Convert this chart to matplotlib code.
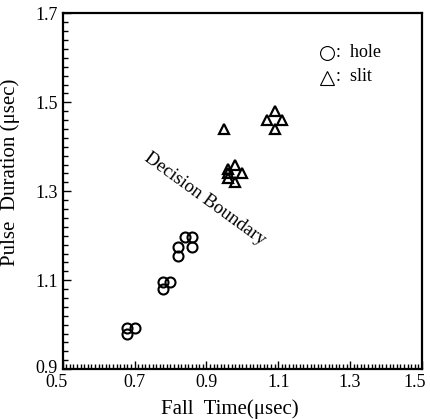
import matplotlib.pyplot as plt
import matplotlib.transforms as mtransforms
from matplotlib.ticker import MultipleLocator

plt.rcParams['font.family'] = ['Liberation Serif', 'DejaVu Serif']

hole_x = [0.68, 0.70, 0.68, 0.78, 0.80, 0.78, 0.82, 0.82, 0.84, 0.86, 0.86]
hole_y = [0.993, 0.993, 0.978, 1.095, 1.095, 1.08, 1.175, 1.155, 1.197, 1.197, 1.175]
slit_x = [0.95, 1.09, 1.07, 1.11, 1.09, 0.98, 0.96, 1.00, 0.98, 0.96, 0.96]
slit_y = [1.44, 1.48, 1.46, 1.46, 1.44, 1.36, 1.35, 1.34, 1.32, 1.34, 1.33]
x_ticks = [0.5, 0.7, 0.9, 1.1, 1.3, 1.5]
y_ticks = [0.9, 1.1, 1.3, 1.5, 1.7]

fig = plt.figure(figsize=(4.31, 4.19), dpi=100)
ax = fig.add_axes([0.1455, 0.119, 0.8335, 0.849])

ax.plot(hole_x, hole_y, 'o', mfc='none', mec='black', ms=7.2, mew=1.5)
ax.plot(slit_x, slit_y, '^', mfc='none', mec='black', ms=6.5, mew=1.6)

ax.set_xlim(0.5, 1.5)
ax.set_ylim(0.9, 1.7)
ax.set_xticks(x_ticks)
ax.set_yticks(y_ticks)
ax.xaxis.set_minor_locator(MultipleLocator(0.01))
ax.yaxis.set_minor_locator(MultipleLocator(0.02))
ax.tick_params(which='both', direction='in', labelsize=13, width=1)
ax.tick_params(which='major', length=6)
ax.tick_params(which='minor', length=3.5)
for s in ax.spines.values():
    s.set_linewidth(1.6)

# nudge the end labels like the original
xl = ax.get_xticklabels()
xl[0].set_transform(xl[0].get_transform() + mtransforms.ScaledTranslation(-0.06, 0, fig.dpi_scale_trans))
xl[-1].set_transform(xl[-1].get_transform() + mtransforms.ScaledTranslation(-0.07, 0, fig.dpi_scale_trans))
yl = ax.get_yticklabels()
yl[0].set_transform(yl[0].get_transform() + mtransforms.ScaledTranslation(0, 0.03, fig.dpi_scale_trans))

ax.set_xlabel('Fall  Time(μsec)', fontsize=15)
ax.set_ylabel('Pulse  Duration (μsec)', fontsize=15)
ax.xaxis.set_label_coords(0.466, -0.085)
ax.yaxis.set_label_coords(-0.119, 0.554)

ax.plot([1.236], [1.611], 'o', mfc='none', mec='black', ms=10, mew=0.8)
ax.text(1.262, 1.611, ':  hole', fontsize=13, va='center')
ax.plot([1.236], [1.555], '^', mfc='none', mec='black', ms=10, mew=0.8)
ax.text(1.262, 1.557, ':  slit', fontsize=13, va='center')

ax.text(0.895, 1.283, 'Decision Boundary', fontsize=13.5, rotation=-36,
        ha='center', va='center')

fig.savefig('out.png', dpi=100)
